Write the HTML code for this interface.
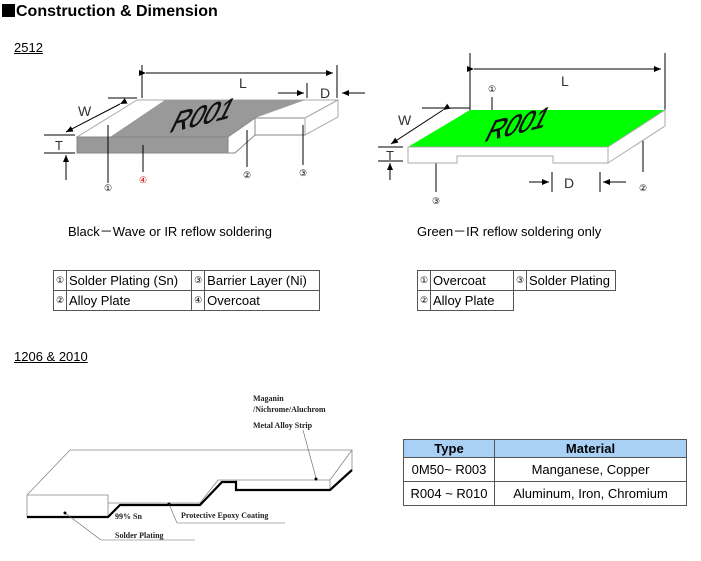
<!DOCTYPE html>
<html><head><meta charset="utf-8"><style>
body{margin:0;background:#fff;width:701px;height:561px;overflow:hidden;position:relative;font-family:"Liberation Sans",sans-serif;}
.a{position:absolute;white-space:nowrap}
table{position:absolute;border-collapse:collapse;font-size:13px;color:#000}
td{border:1px solid #555;padding:0 2px;height:19px}
.c{font-size:9px;padding:0 1px;text-align:center}
</style></head><body>
<div class="a" style="left:2px;top:3px;font-size:16px;font-weight:bold"><span style="display:inline-block;width:13px;height:13px;background:#000;vertical-align:-1px;margin-right:1px"></span>Construction &amp; Dimension</div>
<div class="a" style="left:14px;top:40px;font-size:13px;text-decoration:underline">2512</div>
<div class="a" style="left:14px;top:349px;font-size:13px;text-decoration:underline">1206 &amp; 2010</div>
<div class="a" style="left:68px;top:221px;font-size:13px">Black－Wave or IR reflow soldering</div>
<div class="a" style="left:417px;top:221px;font-size:13px">Green－IR reflow soldering only</div>

<svg class="a" style="left:0;top:0" width="701" height="561" viewBox="0 0 701 561">
<defs><marker id="ar" markerWidth="8" markerHeight="8" refX="7" refY="4" orient="auto"><path d="M0,1 L7,4 L0,7z" fill="#000"/></marker></defs>
<g stroke="#000" stroke-width="1" fill="none">
<line x1="142" y1="65" x2="142" y2="98"/><line x1="337" y1="65" x2="337" y2="98"/>
<line x1="146" y1="73" x2="333" y2="73" marker-start="url(#ar)" marker-end="url(#ar)"/>
<line x1="307" y1="83" x2="307" y2="98"/>
<line x1="278" y1="93" x2="304" y2="93" marker-end="url(#ar)"/>
<line x1="365" y1="93" x2="342" y2="93" marker-end="url(#ar)"/>
<line x1="108" y1="98" x2="137" y2="98"/>
<line x1="120" y1="104" x2="66" y2="132" marker-start="url(#ar)" marker-end="url(#ar)"/>
<line x1="44" y1="135" x2="75" y2="135"/><line x1="44" y1="153" x2="75" y2="153"/>
<line x1="66" y1="180" x2="66" y2="155" marker-end="url(#ar)"/>
</g>
<polygon points="137,100 338,100 305,118 255,118 228,137 77,137" fill="#fff" stroke="#aaa"/>
<polygon points="165,100 305,100 255,118 228,137 110,137" fill="#999"/>
<rect x="77" y="137" width="151" height="16" fill="#999" stroke="#888"/>
<polygon points="228,137 255,118 255,135 235,153 228,153" fill="#fff" stroke="#888"/>
<rect x="255" y="118" width="50" height="17" fill="#fff" stroke="#888"/>
<polygon points="305,118 338,100 338,117 305,135" fill="#fff" stroke="#aaa"/>
<text x="0" y="0" font-size="26" font-family="Liberation Sans" transform="translate(168,133) rotate(-14) skewX(-40)" fill="#111" stroke="#111" stroke-width="0.5">R001</text>
<g stroke="#000" fill="none"><line x1="108" y1="125" x2="108" y2="183"/><line x1="143" y1="145" x2="143" y2="172"/><line x1="247" y1="130" x2="247" y2="167"/><line x1="303" y1="125" x2="303" y2="165"/></g>
<g font-size="9" text-anchor="middle"><text x="108" y="191">①</text><text x="143" y="183" fill="#c00">④</text><text x="247" y="178">②</text><text x="303" y="176">③</text></g>
<text x="239" y="88" font-size="14" fill="#333">L</text><text x="320" y="98" font-size="14" fill="#333">D</text>
<text x="78" y="116" font-size="14" fill="#333">W</text><text x="55" y="150" font-size="13" fill="#333">T</text>

<g stroke="#000" fill="none">
<line x1="470" y1="53" x2="470" y2="110"/><line x1="665" y1="53" x2="665" y2="110"/>
<line x1="474" y1="69" x2="661" y2="69" marker-start="url(#ar)" marker-end="url(#ar)"/>
<line x1="422" y1="108" x2="470" y2="108"/>
<line x1="443" y1="110" x2="391" y2="144" marker-start="url(#ar)" marker-end="url(#ar)"/>
<line x1="378" y1="147" x2="403" y2="147"/><line x1="378" y1="161" x2="403" y2="161"/>
<line x1="390" y1="180" x2="390" y2="163" marker-end="url(#ar)"/>
<line x1="492" y1="97" x2="492" y2="115"/>
<line x1="436" y1="162" x2="436" y2="192"/>
<line x1="643" y1="130" x2="643" y2="172"/>
<line x1="552" y1="172" x2="552" y2="192"/><line x1="600" y1="172" x2="600" y2="192"/>
<line x1="529" y1="182" x2="549" y2="182" marker-end="url(#ar)"/>
<line x1="626" y1="182" x2="603" y2="182" marker-end="url(#ar)"/>
</g>
<polygon points="470,110 665,110 608,147 408,147" fill="#00ff00"/>
<polygon points="408,147 608,147 608,163 553,163 553,156 457,156 457,163 408,163" fill="#fff" stroke="#aaa"/>
<polygon points="608,147 665,110 665,126 608,163" fill="#fff" stroke="#aaa"/>
<text x="0" y="0" font-size="26" font-family="Liberation Sans" transform="translate(483,142) rotate(-14) skewX(-40)" fill="#111" stroke="#111" stroke-width="0.5">R001</text>
<g font-size="9" text-anchor="middle"><text x="492" y="92">①</text><text x="436" y="204">③</text><text x="643" y="191">②</text></g>
<text x="561" y="86" font-size="14" fill="#333">L</text><text x="564" y="188" font-size="14" fill="#333">D</text>
<text x="398" y="125" font-size="14" fill="#333">W</text><text x="386" y="160" font-size="13" fill="#333">T</text>

<g stroke="#888" stroke-width="0.8" fill="none">
<polyline points="27,495 70,450 352,450 352,470"/>
<line x1="352" y1="450" x2="330" y2="480"/>
<polyline points="27,495 108,495 108,517"/>
<line x1="27" y1="495" x2="27" y2="517"/>
<polyline points="108,503 200,503 218,480 330,480 330,490"/>
<line x1="236" y1="480" x2="236" y2="490"/>
</g>
<polyline points="27,517 108,517 120,505 200,505 222,482 236,482 236,490 330,490 352,470" stroke="#000" stroke-width="2.2" fill="none"/>
<g stroke="#666" stroke-width="0.6" fill="none">
<line x1="65" y1="513" x2="101" y2="540"/><line x1="101" y1="540" x2="195" y2="540"/>
<line x1="169" y1="504" x2="177" y2="523"/><line x1="177" y1="523" x2="285" y2="523"/>
<line x1="303" y1="430" x2="316" y2="478"/>
</g>
<circle cx="65" cy="513" r="1.5"/><circle cx="169" cy="504" r="1.5"/><circle cx="316" cy="479" r="1.5"/>
<g font-family="Liberation Serif" font-weight="bold" font-size="8" fill="#222">
<text x="253" y="401">Maganin</text><text x="253" y="412">/Nichrome/Aluchrom</text><text x="253" y="428">Metal Alloy Strip</text>
<text x="115" y="519">99% Sn</text><text x="181" y="518">Protective Epoxy Coating</text><text x="115" y="538">Solder Plating</text>
</g>
</svg>

<table style="left:53px;top:270px;width:267px">
<tr><td class="c" style="width:10px">①</td><td>Solder Plating (Sn)</td><td class="c" style="width:10px">③</td><td>Barrier Layer (Ni)</td></tr>
<tr><td class="c">②</td><td>Alloy Plate</td><td class="c">④</td><td>Overcoat</td></tr>
</table>
<table style="left:417px;top:270px;width:199px">
<tr><td class="c" style="width:10px">①</td><td style="width:78px">Overcoat</td><td class="c" style="width:10px">③</td><td>Solder Plating</td></tr>
<tr><td class="c">②</td><td>Alloy Plate</td><td style="border:none"></td><td style="border:none;border-top:1px solid #555"></td></tr>
</table>
<table style="left:403px;top:439px;width:284px;text-align:center">
<tr style="background:#a9d0f5;font-weight:bold"><td style="height:17px;width:86px">Type</td><td style="height:17px">Material</td></tr>
<tr><td style="height:23px">0M50~ R003</td><td style="height:23px">Manganese, Copper</td></tr>
<tr><td style="height:23px">R004 ~ R010</td><td style="height:23px">Aluminum, Iron, Chromium</td></tr>
</table>
</body></html>
